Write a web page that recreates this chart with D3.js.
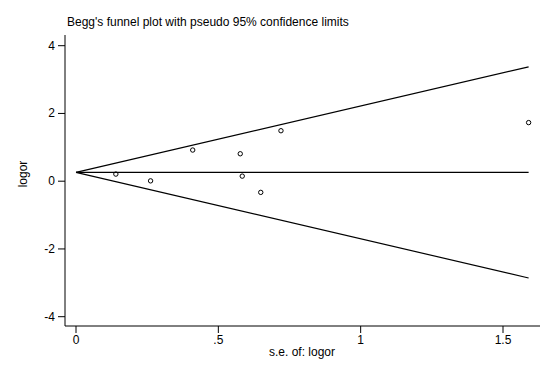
<!DOCTYPE html>
<html>
<head>
<meta charset="utf-8">
<script src="https://cdn.jsdelivr.net/npm/d3@7"></script>
<style>
  body { margin: 0; background: #fff; }
  text { font-family: "Liberation Sans", Arial, sans-serif; fill: #000; }
</style>
</head>
<body>
<div id="chart"></div>
<script>
// study standard errors and log odds ratios
const seVals = [0.14, 0.262, 0.41, 0.577, 0.584, 0.649, 0.72, 1.59];
const logorVals = [0.21, 0.01, 0.92, 0.81, 0.15, -0.33, 1.49, 1.73];
const pooled = 0.26;
const xTicks = [0, 0.5, 1, 1.5];
const yTicks = [-4, -2, 0, 2, 4];

const width = 554, height = 370;

const svg = d3.select("#chart").append("svg")
  .attr("width", width)
  .attr("height", height);

const x = d3.scaleLinear().domain([0, 1.5]).range([76, 503]);
const y = d3.scaleLinear().domain([-4, 4]).range([316.7, 45.7]);

const axisLeftX = 65, axisBottomY = 326;

// title
svg.append("text")
  .attr("x", 67).attr("y", 26)
  .attr("font-size", 12)
  .text("Begg's funnel plot with pseudo 95% confidence limits");

// y axis
svg.append("line")
  .attr("x1", axisLeftX).attr("x2", axisLeftX)
  .attr("y1", 35).attr("y2", axisBottomY)
  .attr("stroke", "#000");
const yAxis = svg.append("g");
yTicks.forEach(t => {
  yAxis.append("line")
    .attr("x1", axisLeftX - 7).attr("x2", axisLeftX)
    .attr("y1", y(t)).attr("y2", y(t))
    .attr("stroke", "#000");
  yAxis.append("text")
    .attr("x", axisLeftX - 10).attr("y", y(t) + 4)
    .attr("text-anchor", "end")
    .attr("font-size", 12)
    .text(d3.format("d")(t).replace("−", "-"));
});
svg.append("text")
  .attr("transform", "translate(27," + 174 + ") rotate(-90)")
  .attr("text-anchor", "middle")
  .attr("font-size", 12)
  .text("logor");

// x axis
svg.append("line")
  .attr("x1", axisLeftX).attr("x2", 540)
  .attr("y1", axisBottomY).attr("y2", axisBottomY)
  .attr("stroke", "#000");
const xAxis = svg.append("g");
xTicks.forEach(t => {
  xAxis.append("line")
    .attr("x1", x(t)).attr("x2", x(t))
    .attr("y1", axisBottomY).attr("y2", axisBottomY + 7)
    .attr("stroke", "#000");
  xAxis.append("text")
    .attr("x", x(t)).attr("y", axisBottomY + 18)
    .attr("text-anchor", "middle")
    .attr("font-size", 12)
    .text(t === 0 ? "0" : String(t).replace(/^0/, ""));
});
svg.append("text")
  .attr("x", 302).attr("y", 356)
  .attr("text-anchor", "middle")
  .attr("font-size", 12)
  .text("s.e. of: logor");

// funnel lines
const seMax = d3.max(seVals);
const funnel = [
  [[0, pooled], [seMax, pooled + 1.96 * seMax]],
  [[0, pooled], [seMax, pooled]],
  [[0, pooled], [seMax, pooled - 1.96 * seMax]]
];
const line = d3.line().x(d => x(d[0])).y(d => y(d[1]));
svg.selectAll(".funnel").data(funnel).enter().append("path")
  .attr("class", "funnel")
  .attr("d", line)
  .attr("fill", "none")
  .attr("stroke", "#000")
  .attr("stroke-width", 1.2);

// study points
svg.selectAll(".pt").data(seVals).enter().append("circle")
  .attr("class", "pt")
  .attr("cx", d => x(d))
  .attr("cy", (d, i) => y(logorVals[i]))
  .attr("r", 2.2)
  .attr("fill", "none")
  .attr("stroke", "#000")
  .attr("stroke-width", 1);
</script>
</body>
</html>
